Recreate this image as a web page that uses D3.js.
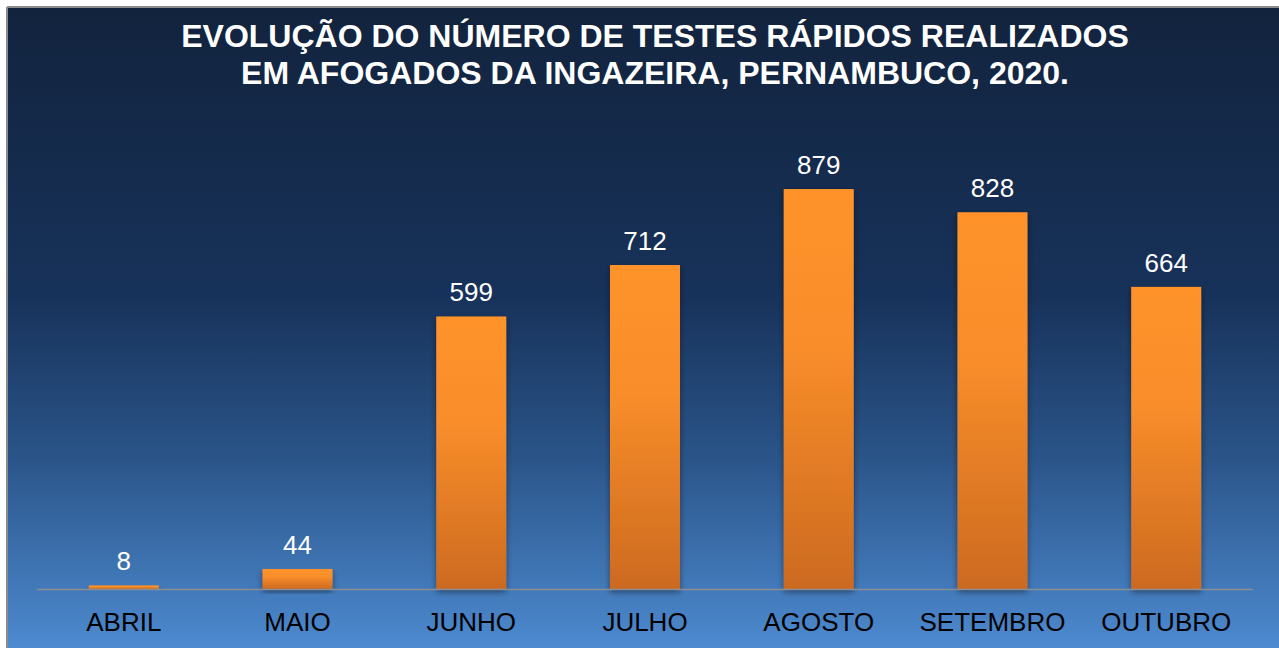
<!DOCTYPE html>
<html>
<head>
<meta charset="utf-8">
<script src="https://cdn.jsdelivr.net/npm/d3@7"></script>
<style>
  html, body { margin: 0; padding: 0; background: #ffffff; }
  svg { display: block; }
  .title { font-family: 'Liberation Sans', Arial, sans-serif; font-weight: bold; font-size: 32px; fill: #ffffff; }
  .val { font-family: 'Liberation Sans', Arial, sans-serif; font-size: 26px; fill: #ffffff; }
  .cat { font-family: 'Liberation Sans', Arial, sans-serif; font-size: 26px; fill: #000000; }
</style>
</head>
<body>
<svg id="chart"></svg>
<script>
// Testes rápidos por mês, Afogados da Ingazeira 2020
var months = ['ABRIL', 'MAIO', 'JUNHO', 'JULHO', 'AGOSTO', 'SETEMBRO', 'OUTUBRO'];
var tests = [8, 44, 599, 712, 879, 828, 664];
var titleLines = ['EVOLUÇÃO DO NÚMERO DE TESTES RÁPIDOS REALIZADOS',
                  'EM AFOGADOS DA INGAZEIRA, PERNAMBUCO, 2020.'];

var W = 1279, H = 648;
var svg = d3.select('#chart').attr('width', W).attr('height', H);

var defs = svg.append('defs');
var bg = defs.append('linearGradient').attr('id', 'bg')
    .attr('x1', 0).attr('y1', 0).attr('x2', 0).attr('y2', 1);
bg.append('stop').attr('offset', '0%').attr('stop-color', '#12233d');
bg.append('stop').attr('offset', '45%').attr('stop-color', '#17325a');
bg.append('stop').attr('offset', '70%').attr('stop-color', '#2a5488');
bg.append('stop').attr('offset', '100%').attr('stop-color', '#4d8ad0');

var barGrad = defs.append('linearGradient').attr('id', 'barGrad')
    .attr('x1', 0).attr('y1', 0).attr('x2', 0).attr('y2', 1);
barGrad.append('stop').attr('offset', '0%').attr('stop-color', '#ff932c');
barGrad.append('stop').attr('offset', '40%').attr('stop-color', '#f88d2a');
barGrad.append('stop').attr('offset', '100%').attr('stop-color', '#cc6a20');

var shadow = defs.append('filter').attr('id', 'shadow')
    .attr('x', '-20%').attr('y', '-10%').attr('width', '140%').attr('height', '130%');
shadow.append('feGaussianBlur').attr('in', 'SourceAlpha').attr('stdDeviation', 3).attr('result', 'b');
shadow.append('feOffset').attr('in', 'b').attr('dy', 3).attr('result', 'o');
shadow.append('feComponentTransfer').attr('in', 'o').attr('result', 's')
    .append('feFuncA').attr('type', 'linear').attr('slope', 0.45);
var merge = shadow.append('feMerge');
merge.append('feMergeNode').attr('in', 's');
merge.append('feMergeNode').attr('in', 'SourceGraphic');

// panel + thin grey frame
svg.append('rect').attr('x', 7).attr('y', 7).attr('width', W - 7).attr('height', H - 7)
    .attr('fill', 'url(#bg)');
svg.append('line').attr('x1', 7).attr('x2', W).attr('y1', 7).attr('y2', 7)
    .attr('stroke', '#8c8c8c').attr('stroke-width', 2);
svg.append('line').attr('x1', 7).attr('x2', 7).attr('y1', 7).attr('y2', H)
    .attr('stroke', '#8c8c8c').attr('stroke-width', 2);

svg.selectAll('text.title').data(titleLines).enter().append('text')
    .attr('class', 'title')
    .attr('x', 655).attr('y', function (d, i) { return 47 + i * 37; })
    .attr('text-anchor', 'middle')
    .text(function (d) { return d; });

var left = 37, right = 1253, base = 589;
var x = d3.scaleBand().domain(months).range([left, right]).paddingInner(0.597).paddingOuter(0.298);
var y = d3.scaleLinear().domain([0, 1000]).range([base, base - 455]);

var g = svg.append('g');
g.selectAll('rect.bar').data(tests).enter().append('rect')
    .attr('class', 'bar')
    .attr('x', function (d, i) { return x(months[i]); })
    .attr('y', function (d) { return y(d); })
    .attr('width', x.bandwidth())
    .attr('height', function (d) { return base - y(d); })
    .attr('fill', 'url(#barGrad)')
    .attr('filter', 'url(#shadow)');

g.append('line').attr('x1', left).attr('x2', right).attr('y1', base + 0.5).attr('y2', base + 0.5)
    .attr('stroke', '#8a8f96').attr('stroke-width', 1.5);

g.selectAll('text.val').data(tests).enter().append('text')
    .attr('class', 'val')
    .attr('x', function (d, i) { return x(months[i]) + x.bandwidth() / 2; })
    .attr('y', function (d) { return y(d) - 15; })
    .attr('text-anchor', 'middle')
    .text(function (d) { return d; });

var xAxis = d3.axisBottom(x).tickSize(0).tickPadding(24);
var ax = g.append('g').attr('transform', 'translate(0,' + base + ')').call(xAxis);
ax.select('.domain').remove();
ax.selectAll('text').attr('class', 'cat').attr('fill', null).attr('font-size', null).attr('font-family', null);
</script>
</body>
</html>
